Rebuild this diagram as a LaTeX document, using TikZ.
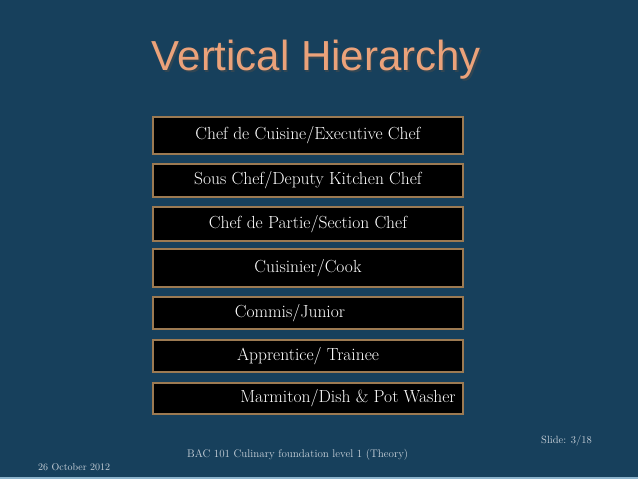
\documentclass[tikz,border=0pt]{standalone}
\usepackage{fontspec}
\newfontfamily\titlefont{Liberation Sans}
\definecolor{slideblue}{HTML}{17405C}
\definecolor{rimbrown}{HTML}{9C7A52}
\definecolor{peach}{HTML}{EBA27A}
\definecolor{footgrey}{HTML}{C9D2DA}
\definecolor{edgeblue}{HTML}{8DB4CC}
\begin{document}
\begin{tikzpicture}[x=1pt,y=-1pt]
    \tikzstyle{every node}=[inner sep=0pt];
    \tikzstyle{rank}=[draw=rimbrown,line width=1.5pt,fill=black,text=white,minimum width=310pt,font=\fontsize{17.5}{20}\selectfont];
    \tikzstyle{foot}=[text=footgrey,anchor=west];
    \fill[slideblue] (0,0) rectangle (638,479);
    \fill[edgeblue] (0,477) rectangle (638,479);
    \useasboundingbox (0,0) rectangle (638,479);
    % title with its shadow
    \node at (318,62) (shadow) [text=black!70,opacity=.5,font=\titlefont\fontsize{42}{46}\selectfont] {Vertical Hierarchy};
    \node at (316.5,60) (title) [text=peach,font=\titlefont\fontsize{42}{46}\selectfont] {Vertical Hierarchy};
    \node at (308,135.5) (r1) [rank,minimum height=37pt] {Chef de Cuisine/Executive Chef};
    \node at (308,180.5) (r2) [rank,minimum height=33pt] {Sous Chef/Deputy Kitchen Chef};
    \node at (308,224) (r3) [rank,minimum height=34pt] {Chef de Partie/Section Chef};
    \node at (308,268) (r4) [rank,minimum height=38pt] {Cuisinier/Cook};
    \node at (308,313) (r5) [rank,minimum height=32pt] {Commis/Junior\hspace*{36pt}};
    \node at (308,356) (r6) [rank,minimum height=32pt] {Apprentice/ Trainee};
    \node at (308,398.5) (r7) [rank,minimum height=31pt] {\hspace*{80pt}Marmiton/Dish \& Pot Washer};
    \node at (38,467) (date) [foot,font=\fontsize{10}{12}\selectfont] {26 October 2012};
    \node at (187,455) (course) [foot,font=\fontsize{11}{13}\selectfont] {BAC 101 Culinary foundation level 1 (Theory)};
    \node at (541,441) (slide) [foot,font=\fontsize{10.5}{12}\selectfont] {Slide: 3/18};
\end{tikzpicture}
\end{document}
